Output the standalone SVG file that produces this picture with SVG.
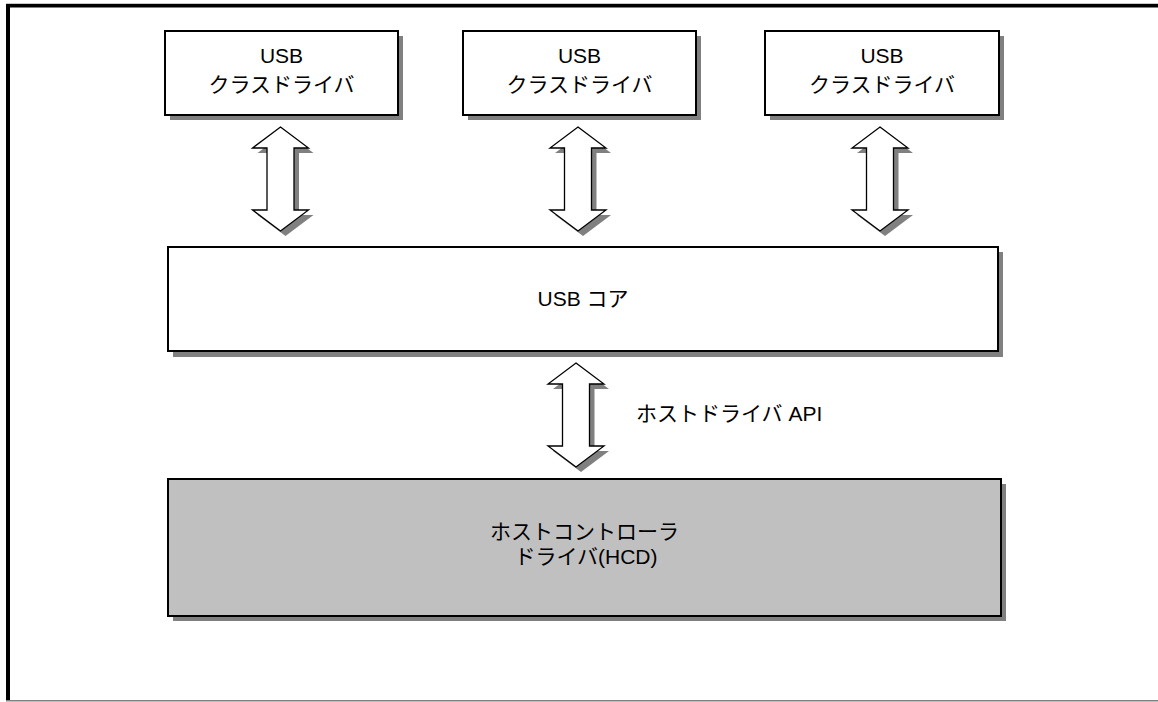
<svg xmlns="http://www.w3.org/2000/svg" xmlns:xlink="http://www.w3.org/1999/xlink" width="1158" height="702" viewBox="0 0 1158 702">
  <style>
    .box { stroke: #000; stroke-width: 2; }
    .shadow { fill: #808080; }
    .arrow { fill: #fff; stroke: #000; stroke-width: 1.3; stroke-linejoin: miter; }
    .arrow-shadow { fill: #808080; }
    text { font-family: "Liberation Sans", "Noto Sans CJK JP", sans-serif; font-size: 21px; fill: #000; }
    .c { text-anchor: middle; }
  </style>
  <defs>
    <!-- double-headed block arrow, tip at origin, 104 tall -->
    <path id="dbl" d="M0,0 L28,21 L13.5,21 L13.5,83 L28,83 L0,104 L-28,83 L-13.5,83 L-13.5,21 L-28,21 Z"/>
  </defs>

  <rect width="1158" height="702" fill="#fff"/>

  <!-- page frame -->
  <g id="frame">
    <rect x="6" y="3" width="1152" height="1" fill="#c8c8c8"/>
    <rect x="6" y="4" width="1152" height="3.5" fill="#000"/>
    <rect x="6" y="4" width="4" height="697" fill="#000"/>
    <rect x="6" y="700" width="1152" height="1.5" fill="#808080"/>
  </g>

  <g id="class-driver-1">
    <rect class="shadow" x="170" y="36" width="233" height="84"/>
    <rect class="box" x="165" y="31" width="233" height="84" fill="#fff"/>
    <text class="c" x="281.5" y="63">USB</text>
    <text class="c" x="281.5" y="92">クラスドライバ</text>
  </g>

  <g id="class-driver-2">
    <rect class="shadow" x="468" y="36" width="233" height="84"/>
    <rect class="box" x="463" y="31" width="233" height="84" fill="#fff"/>
    <text class="c" x="579.5" y="63">USB</text>
    <text class="c" x="579.5" y="92">クラスドライバ</text>
  </g>

  <g id="class-driver-3">
    <rect class="shadow" x="770" y="36" width="234" height="84"/>
    <rect class="box" x="765" y="31" width="234" height="84" fill="#fff"/>
    <text class="c" x="882" y="63">USB</text>
    <text class="c" x="882" y="92">クラスドライバ</text>
  </g>

  <g id="usb-core">
    <rect class="shadow" x="173" y="252" width="830" height="105"/>
    <rect class="box" x="168" y="247" width="830" height="104" fill="#fff"/>
    <text class="c" x="583" y="306">USB コア</text>
  </g>

  <g id="hcd">
    <rect class="shadow" x="173" y="484" width="833" height="137"/>
    <rect class="box" x="168" y="479" width="833" height="137" fill="#c0c0c0"/>
    <text class="c" x="584.5" y="539">ホストコントローラ</text>
    <text class="c" x="586" y="564">ドライバ(HCD)</text>
  </g>

  <g id="connectors">
    <g transform="translate(280.5,127)">
      <use xlink:href="#dbl" class="arrow-shadow" x="5" y="5"/>
      <use xlink:href="#dbl" class="arrow"/>
    </g>
    <g transform="translate(578,127)">
      <use xlink:href="#dbl" class="arrow-shadow" x="5" y="5"/>
      <use xlink:href="#dbl" class="arrow"/>
    </g>
    <g transform="translate(880,127)">
      <use xlink:href="#dbl" class="arrow-shadow" x="5" y="5"/>
      <use xlink:href="#dbl" class="arrow"/>
    </g>
    <g transform="translate(576,363)">
      <use xlink:href="#dbl" class="arrow-shadow" x="5" y="5"/>
      <use xlink:href="#dbl" class="arrow"/>
    </g>
    <text x="636" y="421">ホストドライバ API</text>
  </g>
</svg>
